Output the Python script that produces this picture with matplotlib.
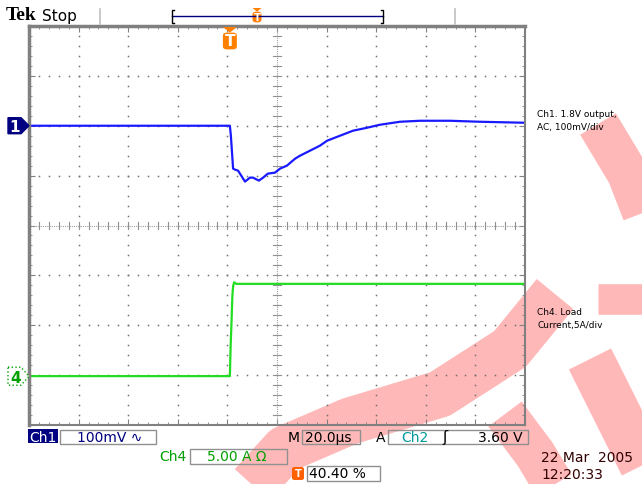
import matplotlib.pyplot as plt
from matplotlib.patches import Polygon, Rectangle, FancyBboxPatch
import numpy as np

# screen: 10 div x 20 us, ch1 100 mV/div, ch4 5 A/div
ch1_t = [0, 81.0, 81.4, 82.3, 83.1, 84.3, 87.1, 89.1, 90.3, 92.7, 94.4, 96.3, 99.2,
         101.2, 104.0, 107.3, 109.3, 113.3, 117.3, 120.2, 125.4, 130.6, 136.3,
         141.5, 149.6, 157.7, 169.8, 181.8, 200.0]
ch1_mv = [0, 0, -20, -86, -88, -90, -112, -104, -104, -110, -104, -96, -94,
          -86, -80, -66, -60, -50, -40, -30, -20, -10, -4,
          2, 8, 10, 10, 8, 6]
ch4_t = [0, 81.0, 81.3, 81.7, 82.0, 82.3, 82.7, 83.6, 200.0]
ch4_a = [0, 0, 3.0, 5.7, 8.0, 9.0, 9.4, 9.25, 9.25]

ch1_off = 2.0
ch4_off = -3.02
trig_t = 81.0
header = ["Tek", "Stop"]
ch1_note = "Ch1. 1.8V output,\nAC, 100mV/div"
ch4_note = "Ch4. Load\nCurrent,5A/div"
W, H = 642, 485

fig = plt.figure(figsize=(6.42, 4.85), dpi=100)


def P(px, py):
    return px / W, 1 - py / H


# watermark (rough)
for pts, w in [([(235, 505), (285, 450), (350, 422), (440, 395), (510, 350), (555, 295)], 34),
               ([(505, 415), (535, 455), (565, 505)], 30),
               ([(598, 125), (628, 175), (655, 245)], 30),
               ([(598, 300), (650, 300)], 22),
               ([(590, 360), (620, 420), (650, 480)], 34)]:
    xs, ys = zip(*[P(*p) for p in pts])
    fig.add_artist(plt.Line2D(xs, ys, color='#ffb8b8', lw=w, solid_capstyle='butt',
                              solid_joinstyle='round', zorder=0))

ax = fig.add_axes([29 / W, 1 - 426 / H, 496 / W, 399 / H])
ax.set_facecolor('none')
ax.set_xlim(-5, 5)
ax.set_ylim(-4, 4)
ax.set_xticks(range(-5, 6))
ax.set_yticks(range(-4, 5))
ax.set_xticks(np.arange(-5, 5.01, 0.2), minor=True)
ax.set_yticks(np.arange(-4, 4.01, 0.2), minor=True)
ax.tick_params(which='both', direction='in', top=True, right=True,
               labelbottom=False, labelleft=False, color='#808080')
ax.tick_params(which='major', length=4)
ax.tick_params(which='minor', length=2)
for s in ax.spines.values():
    s.set_color('#808080')
    s.set_linewidth(1.5)
ax.spines['top'].set_linewidth(2.5)
ax.spines['left'].set_linewidth(2.5)

# graticule dots
dots = np.arange(-5, 5.01, 0.2)
vdots = np.arange(-4, 4.01, 0.2)
for g in range(-4, 5):
    if g != 0:
        ax.plot([g] * len(vdots), vdots, ls='none', marker='s', ms=1.1, color='#707070', mew=0)
for g in range(-3, 4):
    if g != 0:
        ax.plot(dots, [g] * len(dots), ls='none', marker='s', ms=1.1, color='#707070', mew=0)
ax.axvline(0, color='#a0a0a0', lw=0.8, ls=(0, (1, 1)))
ax.axhline(0, color='#a0a0a0', lw=0.8, ls=(0, (1, 1)))
for v in vdots:
    ax.plot([-0.08, 0.08], [v, v], color='#909090', lw=0.8)
for v in dots:
    ax.plot([v, v], [-0.08, 0.08], color='#909090', lw=0.8)

ax.plot(np.array(ch1_t) / 20 - 5, ch1_off + np.array(ch1_mv) / 100, color='#1a1aff', lw=1.6)
ax.plot(np.array(ch4_t) / 20 - 5, ch4_off + np.array(ch4_a) / 5, color='#22dd22', lw=1.6)

# channel markers at left
y1 = 226.5 - ch1_off * 49.9
y4 = 226.5 - ch4_off * 49.9
fig.add_artist(Polygon([P(8, y1 - 8), P(21, y1 - 8), P(29, y1), P(21, y1 + 8), P(8, y1 + 8)],
                       closed=True, fc='#000080', ec='#000080', transform=fig.transFigure))
fig.text(*P(15, y1 + 1), "1", color='white', fontsize=11, fontweight='bold', ha='center', va='center')
fig.add_artist(Polygon([P(8, y4 - 9), P(21, y4 - 9), P(29, y4), P(21, y4 + 9), P(8, y4 + 9)],
                       closed=True, fc='white', ec='#00a000', lw=1, ls=':', transform=fig.transFigure))
fig.text(*P(16, y4 + 1), "4", color='#00a000', fontsize=11, fontweight='bold', ha='center', va='center')

# header
fig.text(*P(6, 16), header[0], fontsize=14, fontweight='bold', family='Liberation Serif', va='center')
fig.text(*P(42, 16), header[1], fontsize=11, va='center')
for gx in [100, 455]:
    fig.add_artist(plt.Line2D([gx / W] * 2, [1 - 10 / H, 1 - 25 / H], color='#c0c0c0', lw=1.2))
fig.add_artist(plt.Line2D([172 / W, 383 / W], [1 - 17 / H] * 2, color='#000080', lw=1))
for bx, d in [(172, 1), (383, -1)]:
    fig.add_artist(plt.Line2D([(bx + 2 * d) / W, bx / W, bx / W, (bx + 2 * d) / W],
                              [1 - 11 / H, 1 - 11 / H, 1 - 24 / H, 1 - 24 / H], color='black', lw=1))


def trig_marker(px, py_top, scale):
    fig.add_artist(Polygon([P(px - 5 * scale, py_top), P(px + 5 * scale, py_top), P(px, py_top + 4 * scale)],
                           closed=True, fc='#ff8000', ec='none', transform=fig.transFigure))
    fig.add_artist(FancyBboxPatch(P(px - 5 * scale, py_top + 16 * scale), 10 * scale / W, 12 * scale / H,
                                  boxstyle='round,pad=0,rounding_size=0.006', fc='#ff8000', ec='none',
                                  transform=fig.transFigure))
    fig.text(*P(px, py_top + 10 * scale), "T", color='white', fontsize=8 * scale, fontweight='bold',
             ha='center', va='center')


trig_marker(257, 9, 0.9)
trig_marker(29 + trig_t * 496 / 200, 28, 1.4)

# right notes
fig.text(*P(537, 121), ch1_note, fontsize=6.5, va='center', linespacing=1.5)
fig.text(*P(537, 319), ch4_note, fontsize=6.5, va='center', linespacing=1.5)

# bottom readouts


def box(x0, y0, x1, y1):
    fig.add_artist(Rectangle(P(x0, y1), (x1 - x0) / W, (y1 - y0) / H, fill=False, ec='#909090',
                             lw=1, transform=fig.transFigure))


fig.add_artist(Rectangle(P(28, 444), 30 / W, 14 / H, fc='#000080', ec='none', transform=fig.transFigure))
fig.text(*P(43, 438), "Ch1", color='white', fontsize=10, ha='center', va='center')
box(60, 431, 156, 445)
fig.text(*P(77, 438), "100mV \u223f", color='#000080', fontsize=10, va='center')
fig.text(*P(288, 438), "M", color='black', fontsize=10, va='center')
box(302, 431, 360, 445)
fig.text(*P(305, 438), "20.0\u00b5s", color='black', fontsize=10, va='center')
fig.text(*P(376, 438), "A", color='black', fontsize=10, va='center')
box(388, 431, 528, 445)
fig.text(*P(401, 438), "Ch2", color='#009999', fontsize=10, va='center')
fig.text(*P(442, 438), "\u0283", color='black', fontsize=11, va='center')
fig.text(*P(523, 438), "3.60 V", color='black', fontsize=10, va='center', ha='right')
fig.text(*P(159, 457), "Ch4", color='#00a000', fontsize=10, va='center')
box(190, 450, 287, 465)
fig.text(*P(207, 457), "5.00 A \u03a9", color='#00a000', fontsize=10, va='center')
fig.add_artist(FancyBboxPatch(P(292, 481), 12 / W, 13 / H, boxstyle='round,pad=0,rounding_size=0.004',
                              fc='#ff6000', ec='none', transform=fig.transFigure))
fig.text(*P(298, 474), "T", color='white', fontsize=7, fontweight='bold', ha='center', va='center')
box(307, 467, 380, 482)
fig.text(*P(309, 474), "40.40 %", color='black', fontsize=10, va='center')
fig.text(*P(541, 458), "22 Mar  2005", color='#300000', fontsize=10, va='center')
fig.text(*P(541, 475), "12:20:33", color='#300000', fontsize=10, va='center')

fig.savefig('out.png', dpi=100)
